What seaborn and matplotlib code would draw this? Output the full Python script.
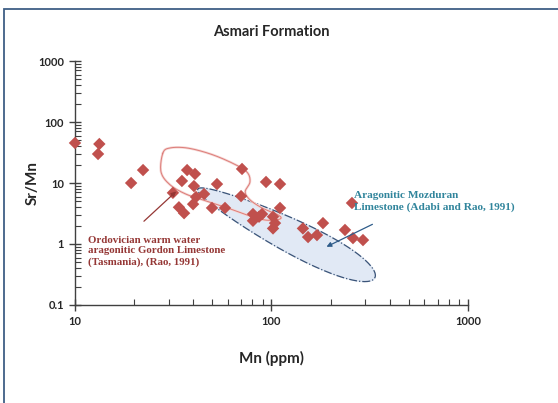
import matplotlib
matplotlib.use("Agg")
import matplotlib.pyplot as plt
import matplotlib.patches as mpatches
import seaborn as sns
import pandas as pd
import numpy as np

# Asmari Formation samples
mn_ppm = [10.0, 13.3, 13.1, 19.3, 22.2, 37.2, 40.8, 35.0, 40.3, 31.5, 45.4, 52.8,
          70.8, 70.0, 93.8, 110.5, 33.8, 35.9, 39.9, 41.3, 49.8, 58.0, 80.5, 86.4,
          89.5, 80.5, 101.8, 104.2, 101.8, 110.5, 144.5, 153.5, 170.4, 182.8,
          236.6, 256.8, 259.8, 292.2]
sr_mn = [45.3, 43.6, 29.9, 10.0, 16.3, 16.3, 14.1, 10.8, 8.9, 6.9, 6.6, 9.6,
         17.0, 6.1, 10.4, 9.6, 4.0, 3.2, 4.5, 5.9, 3.9, 3.9, 3.1, 2.8,
         3.1, 2.4, 2.8, 2.2, 1.8, 3.9, 1.8, 1.3, 1.4, 2.2,
         1.7, 4.7, 1.25, 1.16]

# Ordovician (Gordon Limestone) field outline
loop_mn = [28.0, 30.4, 37.2, 48.6, 63.0, 74.9, 77.7, 73.5, 77.7, 89.5, 108.3,
           110.5, 94.0, 77.7, 61.8, 46.5, 36.6, 30.4, 27.4]
loop_srmn = [30.9, 37.5, 37.5, 30.1, 21.3, 15.2, 10.4, 7.2, 5.3, 3.9, 2.98,
             2.57, 2.46, 2.88, 3.75, 5.07, 6.6, 9.4, 15.2]

# Mozduran field (egg shaped): centre in data units, half axes in pixels
ell_centre = (119, 1.49)
ell_half = (99, 16.5)
ell_angle = 26.6

df = pd.DataFrame({"Mn": mn_ppm, "SrMn": sr_mn})

sns.set_style("white")
plt.rcParams["font.family"] = ["Lato", "DejaVu Sans"]

fig = plt.figure(figsize=(5.58, 4.03), dpi=100)
ax = fig.add_axes([0.1344, 0.2432, 0.7043, 0.6054])
ax.set_xscale("log")
ax.set_yscale("log")
ax.set_xlim(10, 1000)
ax.set_ylim(0.1, 1000)

# blue field, built in screen space then mapped back to data
t = np.linspace(0, 2 * np.pi, 240)
phi = np.deg2rad(ell_angle)
b = ell_half[1] * (1 + 0.3 * np.cos(t))
cx, cy = ax.transData.transform(ell_centre)
ex = cx + ell_half[0] * np.cos(t) * np.cos(phi) + b * np.sin(t) * np.sin(phi)
ey = cy - ell_half[0] * np.cos(t) * np.sin(phi) + b * np.sin(t) * np.cos(phi)
ell = ax.transData.inverted().transform(np.column_stack([ex, ey]))
ax.fill(ell[:, 0], ell[:, 1], color="#dce6f4", alpha=0.85, zorder=1)
ax.plot(ell[:, 0], ell[:, 1], color="#3b5478", lw=0.9, ls="-.", zorder=1)

# pink loop, smoothed in screen space (closed Catmull-Rom)
pts = ax.transData.transform(np.column_stack([loop_mn, loop_srmn]))
n = len(pts)
smooth = []
for i in range(n):
    p0, p1, p2, p3 = pts[i - 1], pts[i], pts[(i + 1) % n], pts[(i + 2) % n]
    for s in np.linspace(0, 1, 12, endpoint=False):
        smooth.append(0.5 * ((2 * p1) + (-p0 + p2) * s
                             + (2 * p0 - 5 * p1 + 4 * p2 - p3) * s ** 2
                             + (-p0 + 3 * p1 - 3 * p2 + p3) * s ** 3))
smooth.append(smooth[0])
loop = ax.transData.inverted().transform(np.array(smooth))
ax.plot(loop[:, 0], loop[:, 1], color="#f6d6d4", lw=1.8, zorder=2)
ax.plot(loop[:, 0], loop[:, 1], color="#dc7c78", lw=0.7, zorder=2)

sns.scatterplot(data=df, x="Mn", y="SrMn", marker="D", s=40, color="#c0504d",
                edgecolor="none", ax=ax, zorder=3, legend=False, clip_on=False)

# annotations
ax.annotate("", xy=(33.5, 7.8), xytext=(21.9, 2.2),
            arrowprops=dict(arrowstyle="-|>", color="#953735", lw=0.9,
                            mutation_scale=7), zorder=4)
ax.annotate("", xy=(185, 0.86), xytext=(336, 2.2),
            arrowprops=dict(arrowstyle="-|>", color="#2e5c8a", lw=0.9,
                            mutation_scale=7), zorder=4)
ax.text(11.6, 1.36, "Ordovician warm water\naragonitic Gordon Limestone\n(Tasmania), (Rao, 1991)",
        family="Liberation Serif", fontweight="bold", fontsize=7.8, color="#953735",
        va="top", ha="left", linespacing=1.22)
ax.text(264, 7.3, "Aragonitic Mozduran\nLimestone (Adabi and Rao, 1991)",
        family="Liberation Serif", fontweight="bold", fontsize=8.1, color="#31859c",
        va="top", ha="left", linespacing=1.3)

# axes styling
for side in ["top", "right"]:
    ax.spines[side].set_visible(False)
for side in ["left", "bottom"]:
    ax.spines[side].set_color("#404040")
    ax.spines[side].set_linewidth(1.0)
ax.set_xticks([10, 100, 1000])
ax.set_xticklabels(["10", "100", "1000"])
ax.set_yticks([0.1, 1, 10, 100, 1000])
ax.set_yticklabels(["0.1", "1", "10", "100", "1000"])
ax.tick_params(which="major", direction="inout", length=8, width=1.0, color="#404040",
               labelsize=8, pad=4)
ax.tick_params(which="minor", direction="in", length=4, width=0.8, color="#404040")
ax.tick_params(axis="both", which="both", bottom=True, left=True)
for lab in ax.get_xticklabels() + ax.get_yticklabels():
    lab.set_fontweight("bold")
ax.set_xlabel("Mn (ppm)", fontsize=11, fontweight="bold", labelpad=17)
ax.set_ylabel("Sr/Mn", fontsize=11, fontweight="bold", labelpad=-1)
ax.set_title("Asmari Formation", fontsize=10.5, fontweight="bold", pad=18)

# outer chart border
fig.patches.append(mpatches.Rectangle((4 / 558, -0.1), 1.2, 1 - 9 / 403 + 0.1,
                                      transform=fig.transFigure, fill=False,
                                      edgecolor="#3f5f86", lw=1.3))

fig.savefig("out.png", dpi=100)
